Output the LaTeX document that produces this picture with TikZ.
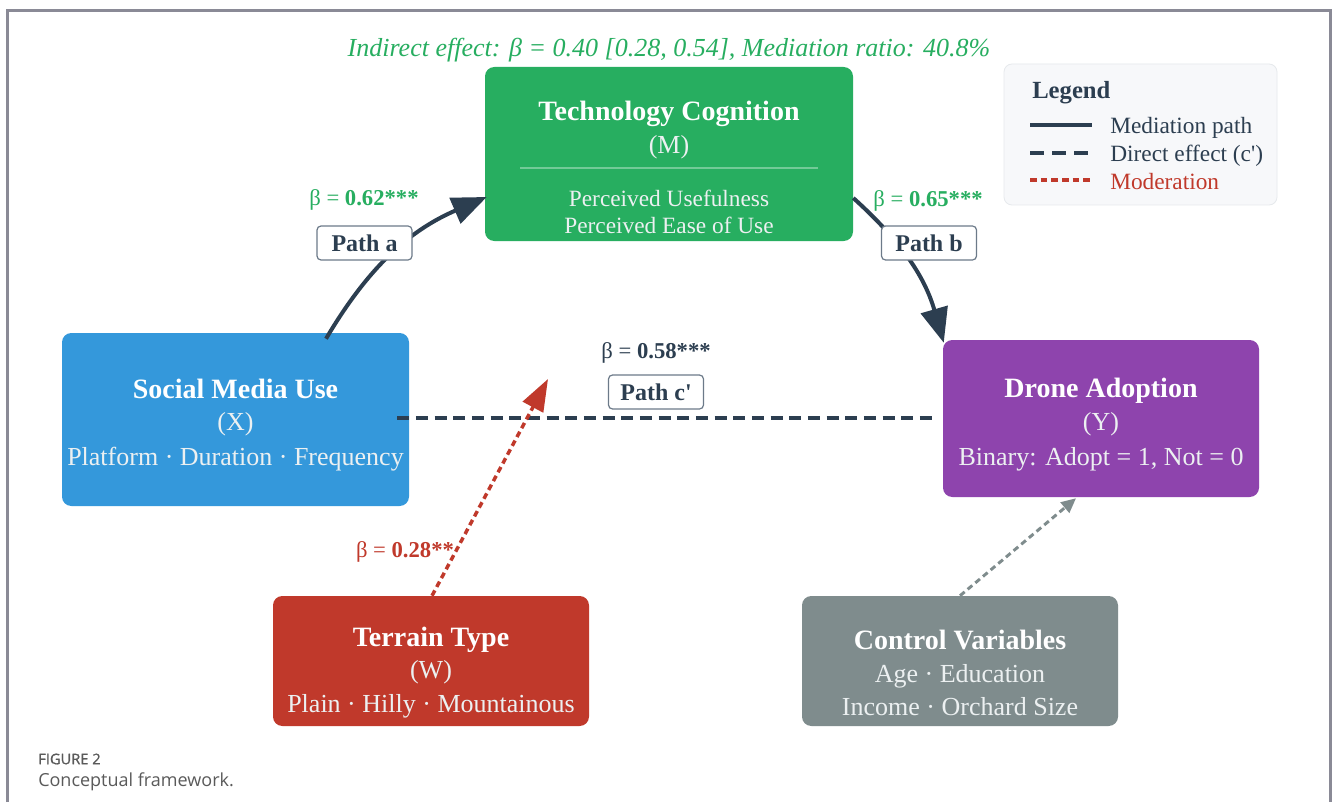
\documentclass[tikz,border=0pt]{standalone}
\usepackage{fontspec}
\setmainfont{Liberation Serif}
\newfontfamily\capfont{Open Sans}
\newfontfamily\capsb[FakeBold=1]{Open Sans}
\usetikzlibrary{arrows.meta,calc}
\definecolor{cgreen}{HTML}{27AE60}
\definecolor{cblue}{HTML}{3498DB}
\definecolor{cpurple}{HTML}{8E44AD}
\definecolor{cred}{HTML}{C0392B}
\definecolor{cgray}{HTML}{7F8C8D}
\definecolor{cdark}{HTML}{2C3E50}
\definecolor{csub}{HTML}{ECF0F1}
\definecolor{clegfill}{HTML}{F7F8FA}
\definecolor{clegdraw}{HTML}{E6E9EC}
\definecolor{cframe}{HTML}{8A8A96}
\definecolor{clabdraw}{HTML}{6C7A89}
\definecolor{ccap}{HTML}{5A5A5A}
\tikzset{
  varbox/.style={rounded corners=7pt, inner sep=0pt},
  ttl/.style={font=\bfseries\fontsize{21}{24}\selectfont, text=white, inner sep=0pt},
  subt/.style={font=\fontsize{19.5}{22}\selectfont, text=csub, inner sep=0pt},
  subs/.style={font=\fontsize{17.5}{20}\selectfont, text=csub, inner sep=0pt},
  pathlab/.style={draw=clabdraw, line width=0.9pt, fill=white, rounded corners=3pt,
    minimum width=71.25pt, minimum height=25.5pt, inner sep=0pt,
    font=\bfseries\fontsize{18}{20}\selectfont, text=cdark},
  betalab/.style={font=\fontsize{17}{19}\selectfont, inner sep=0pt},
  medpath/.style={draw=cdark, line width=3pt, -{Triangle[length=26pt,width=20.5pt]}},
  directpath/.style={draw=cdark, line width=3pt, dash pattern=on 9pt off 5pt},
  modpath/.style={draw=cred, line width=2.6pt, dash pattern=on 4.5pt off 3pt, -{Triangle[length=24pt,width=17pt]}},
  ctrlpath/.style={draw=cgray, line width=2.2pt, dash pattern=on 4.5pt off 3pt, -{Triangle[length=11pt,width=10pt]}},
  legtext/.style={anchor=west, font=\fontsize{17.5}{20}\selectfont, text=cdark, inner sep=0pt}
}
\begin{document}
\begin{tikzpicture}[x=0.75pt,y=-0.75pt]
\useasboundingbox (0,0) rectangle (1333,802);
\fill[white] (0,0) rectangle (1333,802);
\draw[cframe, line width=1.6pt] (7.5,802) -- (7.5,10.5) -- (1330.5,10.5) -- (1330.5,802);

% top text
\node[font=\itshape\fontsize{19.5}{22}\selectfont, text=cgreen, inner sep=0pt] (ind) at (669,50)
  {Indirect effect: β = 0.40 [0.28, 0.54], Mediation ratio: 40.8\%};

% boxes
\node[varbox, fill=cgreen, minimum width=276pt, minimum height=130.5pt] (M) at (669,154) {};
\node[varbox, fill=cblue, minimum width=260.25pt, minimum height=129.75pt] (X) at (235.5,419.5) {};
\node[varbox, fill=cpurple, minimum width=237pt, minimum height=117.75pt] (Y) at (1101,418.5) {};
\node[varbox, fill=cred, minimum width=237pt, minimum height=97.5pt] (W) at (431,661) {};
\node[varbox, fill=cgray, minimum width=237pt, minimum height=97.5pt] (C) at (960,661) {};

% M text
\node[ttl] (Mt) at ($(M)+(0,-40)$) {Technology Cognition};
\node[subt] (Ms) at ($(M)+(0,-7)$) {(M)};
\draw[white, opacity=0.35, line width=0.8pt] ($(M)+(-149,14)$) -- ($(M)+(149,14)$);
\node[subs] (M1) at ($(M)+(0,44.5)$) {Perceived Usefulness};
\node[subs] (M2) at ($(M)+(0,71.5)$) {Perceived Ease of Use};

% X text
\node[ttl] (Xt) at ($(X)+(0,-30.5)$) {Social Media Use};
\node[subt] (Xs) at ($(X)+(0,4.5)$) {(X)};
\node[subt] (X1) at ($(X)+(0,40)$) {Platform · Duration · Frequency};

% Y text
\node[ttl] (Yt) at ($(Y)+(0,-27.5)$) {Drone Adoption};
\node[subt] (Ys) at ($(Y)+(0,5.5)$) {(Y)};
\node[subt] (Y1) at ($(Y)+(0,41)$) {Binary: Adopt = 1, Not = 0};

% W text
\node[ttl] (Wt) at ($(W)+(0,-21)$) {Terrain Type};
\node[subt] (Ws) at ($(W)+(0,11)$) {(W)};
\node[subt] (W1) at ($(W)+(0,45.5)$) {Plain · Hilly · Mountainous};

% C text
\node[ttl] (Ct) at ($(C)+(0,-21)$) {Control Variables};
\node[subt] (C1) at ($(C)+(0,15)$) {Age · Education};
\node[subt] (C2) at ($(C)+(0,45.5)$) {Income · Orchard Size};

% connectors
\coordinate (modtip) at (548,379);
\draw[directpath] ($(X.east)+(-12,-1.5)$) -- ($(Y.west)+(-6,-0.5)$);
\draw[medpath] ($(X.north)+(90.5,6)$) to[bend left=18] ($(M.west)+(2,43)$);
\draw[medpath] ($(M.east)+(0,44)$) to[bend left=16] ($(Y.north west)+(1,3)$);
\draw[modpath] ($(W.north)+(1,0)$) -- (modtip);
\draw[ctrlpath] (C.north) -- ($(Y.south)+(-25,1)$);

% labels
\node[pathlab] (La) at (364.5,243) {Path a};
\node[betalab, text=cgreen] (Ba) at (364,200) {β = \textbf{0.62***}};
\node[pathlab] (Lb) at (929,243) {Path b};
\node[betalab, text=cgreen] (Bb) at (928,201) {β = \textbf{0.65***}};
\node[pathlab] (Lc) at (656,392) {Path c\textquotesingle};
\node[betalab, text=cdark] (Bc) at (656,353) {β = \textbf{0.58***}};
\node[betalab, text=cred] (Bw) at (405,552) {β = \textbf{0.28**}};

% legend
\node[fill=clegfill, draw=clegdraw, line width=0.6pt, rounded corners=6pt,
  minimum width=204.75pt, minimum height=105.75pt, inner sep=0pt] (leg) at (1140.5,134.5) {};
\node[anchor=west, font=\bfseries\fontsize{18.5}{21}\selectfont, text=cdark, inner sep=0pt] (legt) at (1032,92.5) {Legend};
\draw[cdark, line width=2.6pt] (1030,125) -- (1092,125);
\draw[cdark, line width=2.6pt, dash pattern=on 10.5pt off 6pt] (1030,153) -- (1092,153);
\draw[cred, line width=2.4pt, dash pattern=on 5pt off 3pt] (1030,180) -- (1092,180);
\node[legtext] (l1) at (1110,128) {Mediation path};
\node[legtext] (l2) at (1110,155.5) {Direct effect (c\textquotesingle)};
\node[legtext, text=cred] (l3) at (1110,182) {Moderation};

% caption
\node[anchor=west, font=\capsb\fontsize{11}{13}\selectfont, text=ccap, inner sep=0pt] (fig) at (38,759) {FIGURE 2};
\node[anchor=west, font=\capfont\fontsize{13.5}{16}\selectfont, text=ccap, inner sep=0pt] (cap) at (38,782) {Conceptual framework.};
\end{tikzpicture}
\end{document}
